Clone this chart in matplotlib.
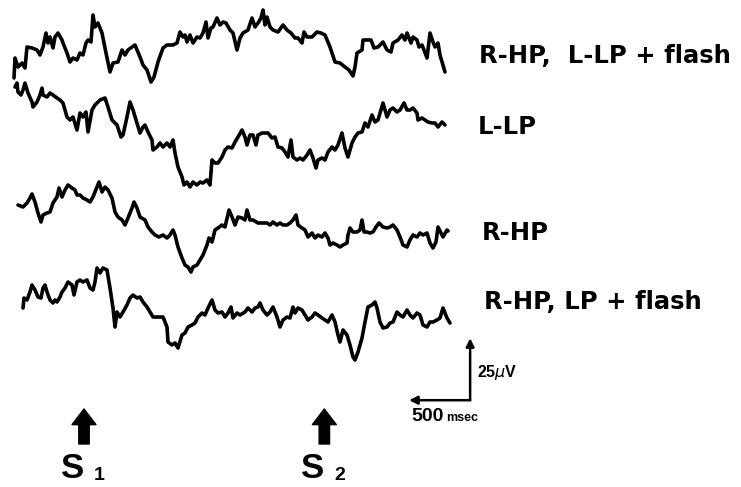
import numpy as np
import matplotlib
matplotlib.use("Agg")
import matplotlib.pyplot as plt

# digitized samples of the four traces, in scan pixels (x, y)
trace1_px = [(14, 78), (15, 58), (18, 67), (22, 63), (25, 68), (27, 47), (32, 48), (37, 50), (40, 55), (43, 47),
             (46, 33), (48, 43), (50, 37), (53, 48), (55, 37), (58, 33), (62, 40), (63, 43), (67, 53), (70, 62),
             (73, 58), (77, 60), (80, 53), (83, 55), (86, 43), (88, 40), (91, 42), (93, 15), (95, 27), (98, 23),
             (102, 33), (106, 53), (110, 72), (113, 63), (118, 62), (122, 50), (125, 55), (128, 50), (132, 47),
             (135, 45), (140, 57), (143, 65), (147, 70), (151, 82), (154, 77), (158, 62), (163, 48), (167, 45),
             (173, 45), (177, 43), (180, 32), (183, 37), (185, 35), (187, 42), (190, 35), (193, 43), (197, 37),
             (200, 38), (203, 33), (206, 22), (208, 38), (211, 28), (213, 27), (217, 18), (220, 25), (223, 22),
             (226, 23), (230, 30), (233, 33), (237, 50), (240, 38), (243, 33), (248, 30), (252, 18), (255, 27),
             (258, 23), (261, 18), (263, 10), (265, 25), (267, 17), (270, 27), (273, 30), (278, 32), (283, 25),
             (287, 30), (291, 33), (295, 38), (298, 38), (302, 43), (304, 32), (307, 37), (312, 37), (317, 32),
             (321, 33), (325, 35), (330, 47), (335, 62), (340, 63), (345, 67), (349, 70), (353, 76), (355, 67),
             (357, 53), (362, 50), (363, 40), (367, 40), (371, 40), (374, 48), (378, 47), (383, 42), (387, 50),
             (391, 52), (393, 43), (398, 40), (402, 35), (405, 40), (407, 33), (411, 43), (413, 37), (417, 40),
             (419, 47), (422, 45), (424, 50), (427, 58), (430, 33), (433, 42), (435, 47), (438, 43), (440, 55),
             (443, 65), (445, 72)]

trace2_px = [(15, 87), (17, 83), (18, 92), (21, 95), (23, 90), (25, 83), (28, 93), (32, 102), (33, 107), (37, 102),
             (40, 95), (42, 88), (43, 95), (47, 97), (50, 93), (53, 95), (57, 98), (60, 100), (63, 103), (67, 117),
             (70, 120), (73, 117), (77, 130), (80, 113), (83, 117), (86, 112), (88, 132), (92, 110), (95, 105),
             (100, 100), (105, 98), (108, 107), (112, 120), (117, 125), (121, 137), (123, 135), (127, 117),
             (130, 102), (133, 110), (137, 123), (140, 133), (143, 127), (145, 125), (148, 132), (152, 140),
             (153, 150), (157, 147), (160, 143), (163, 147), (167, 143), (170, 147), (173, 140), (175, 153),
             (178, 167), (182, 177), (184, 185), (187, 182), (190, 187), (193, 182), (197, 185), (200, 182),
             (203, 183), (207, 180), (210, 185), (212, 160), (215, 163), (218, 163), (222, 157), (225, 150),
             (228, 147), (232, 148), (235, 142), (238, 137), (242, 130), (245, 137), (247, 145), (250, 135),
             (253, 135), (256, 145), (258, 135), (262, 133), (265, 133), (268, 133), (272, 138), (275, 137),
             (278, 147), (282, 148), (285, 152), (288, 157), (291, 140), (293, 157), (297, 160), (300, 158),
             (303, 160), (307, 155), (310, 150), (313, 158), (316, 168), (318, 160), (322, 158), (325, 160),
             (328, 152), (332, 147), (335, 150), (338, 145), (342, 133), (345, 148), (348, 157), (352, 143),
             (355, 137), (358, 133), (362, 132), (365, 123), (368, 127), (372, 115), (375, 122), (378, 120),
             (383, 103), (387, 117), (390, 110), (393, 108), (397, 112), (400, 110), (404, 103), (407, 110),
             (410, 110), (413, 108), (417, 113), (418, 120), (422, 118), (425, 120), (428, 122), (432, 123),
             (435, 123), (438, 127), (442, 122), (445, 125)]

trace3_px = [(18, 205), (23, 207), (27, 203), (30, 198), (32, 194), (35, 202), (38, 213), (41, 222), (43, 215),
             (47, 213), (50, 212), (53, 203), (57, 197), (59, 188), (62, 197), (65, 190), (68, 185), (72, 188),
             (75, 190), (77, 195), (80, 195), (83, 198), (87, 200), (90, 202), (93, 197), (97, 187), (99, 182),
             (102, 192), (105, 187), (108, 190), (112, 198), (115, 212), (118, 217), (122, 220), (125, 225),
             (128, 218), (132, 208), (134, 202), (137, 208), (140, 217), (145, 220), (148, 227), (152, 232),
             (155, 235), (159, 237), (163, 235), (167, 238), (170, 235), (173, 230), (175, 235), (178, 247),
             (182, 258), (185, 265), (188, 267), (191, 272), (193, 267), (197, 265), (200, 260), (203, 255),
             (207, 245), (209, 238), (212, 242), (215, 230), (218, 228), (222, 225), (225, 227), (229, 210),
             (232, 217), (235, 225), (238, 217), (242, 218), (245, 220), (247, 210), (250, 220), (253, 220),
             (258, 223), (263, 223), (267, 223), (270, 225), (273, 222), (277, 225), (280, 223), (283, 225),
             (287, 225), (290, 223), (293, 220), (296, 215), (298, 225), (302, 228), (305, 230), (308, 237),
             (312, 233), (315, 238), (318, 235), (322, 237), (325, 233), (328, 238), (330, 245), (333, 243),
             (337, 245), (340, 247), (343, 245), (347, 243), (348, 235), (350, 228), (353, 232), (357, 232),
             (360, 230), (362, 220), (364, 232), (367, 232), (370, 233), (373, 232), (376, 227), (379, 223),
             (383, 227), (387, 228), (390, 227), (393, 225), (397, 230), (400, 237), (403, 245), (407, 247),
             (410, 240), (413, 235), (417, 237), (420, 233), (423, 235), (427, 233), (430, 243), (433, 248),
             (436, 242), (438, 227), (441, 233), (443, 237), (447, 230), (448, 231)]

trace4_px = [(23, 308), (24, 298), (27, 300), (30, 292), (32, 285), (35, 290), (38, 297), (41, 298), (43, 288),
             (45, 285), (47, 292), (50, 300), (53, 303), (55, 300), (57, 302), (60, 297), (62, 292), (65, 288),
             (68, 282), (72, 285), (74, 295), (77, 282), (80, 280), (83, 282), (87, 280), (90, 288), (93, 290),
             (95, 282), (97, 268), (100, 273), (103, 268), (107, 270), (110, 288), (113, 308), (115, 327),
             (117, 312), (120, 317), (123, 312), (127, 305), (130, 298), (133, 295), (137, 298), (140, 297),
             (143, 302), (147, 307), (150, 312), (153, 317), (158, 317), (163, 317), (167, 327), (168, 342),
             (172, 345), (175, 343), (178, 348), (182, 335), (185, 333), (188, 327), (192, 325), (195, 323),
             (198, 317), (202, 313), (205, 315), (208, 308), (212, 300), (215, 310), (218, 313), (222, 312),
             (225, 317), (228, 313), (231, 307), (233, 318), (237, 313), (240, 315), (245, 312), (248, 308),
             (252, 312), (255, 308), (258, 307), (260, 303), (263, 310), (267, 315), (270, 312), (273, 307),
             (277, 317), (280, 327), (283, 320), (287, 317), (290, 318), (293, 307), (295, 313), (298, 308),
             (302, 310), (305, 315), (308, 320), (312, 317), (315, 313), (318, 315), (322, 318), (325, 320),
             (328, 322), (332, 315), (335, 322), (338, 335), (340, 342), (343, 330), (347, 335), (350, 345),
             (353, 357), (355, 360), (358, 352), (362, 338), (365, 322), (368, 307), (372, 305), (375, 302),
             (377, 308), (380, 322), (383, 328), (387, 327), (390, 323), (393, 322), (397, 312), (400, 315),
             (403, 317), (407, 310), (410, 315), (413, 318), (417, 313), (420, 315), (423, 325), (427, 327),
             (430, 322), (433, 322), (437, 320), (440, 318), (443, 308), (445, 313), (447, 318), (450, 323)]

labels = ["R-HP,  L-LP + flash", "L-LP", "R-HP", "R-HP, LP + flash"]
stim_names = ["S", "S"]
stim_subs = ["1", "2"]
stim_ms = [0, 1970]
scale_ms = 500
scale_uv = 25

# calibration from the scale bar: 500 ms ~ 61 px, 25 uV ~ 62 px
MS_PER_PX = 500 / 61.0
UV_PER_PX = 25 / 62.0
X0_PX = 84      # S1 position
H_PX = 487


def to_ms(x):
    return (np.asarray(x, float) - X0_PX) * MS_PER_PX


def to_uv(y):
    return (H_PX - np.asarray(y, float)) * UV_PER_PX


fig = plt.figure(figsize=(7.41, 4.87), dpi=100)
ax = fig.add_axes([0, 0, 1, 1])
ax.set_xlim(to_ms(0), to_ms(741))
ax.set_ylim(0, to_uv(0))
ax.axis('off')

for tr in [trace1_px, trace2_px, trace3_px, trace4_px]:
    arr = np.array(tr)
    ax.plot(to_ms(arr[:, 0]), to_uv(arr[:, 1]), color='black', lw=2.6,
            solid_joinstyle='round', solid_capstyle='round')

lab_font = 'DejaVu Sans'
label_pos = [(479, 56), (478, 127), (482, 233), (484, 302)]
for lab, (lx, ly) in zip(labels, label_pos):
    ax.text(to_ms(lx), to_uv(ly), lab, fontsize=17.5, fontweight='bold', family=lab_font,
            ha='left', va='center')

# scale bar
font = 'Liberation Sans'
cx, cy = 3165, 35
ax.annotate('', xy=(cx - scale_ms, cy), xytext=(cx, cy),
            arrowprops=dict(arrowstyle='-|>', lw=1.8, color='black', mutation_scale=12, shrinkA=0, shrinkB=0))
ax.annotate('', xy=(cx, cy + scale_uv), xytext=(cx, cy),
            arrowprops=dict(arrowstyle='-|>', lw=1.8, color='black', mutation_scale=12, shrinkA=0, shrinkB=0))
ax.text(cx + 55, cy + 11, '25$\\mu$V', fontsize=11.5, fontweight='bold', family=font, ha='left', va='center')
ax.text(cx - scale_ms + 20, cy - 6.5, '500', fontsize=14, fontweight='bold', family=font, ha='left', va='center')
ax.text(cx - scale_ms + 305, cy - 7, 'msec', fontsize=9, fontweight='bold', family=font, ha='left', va='center')

# stimulus markers
for name, sub, t in zip(stim_names, stim_subs, stim_ms):
    ax.annotate('', xy=(t, to_uv(409)), xytext=(t, to_uv(444)),
                arrowprops=dict(arrowstyle='simple,head_width=1.15,head_length=0.75,tail_width=0.5',
                                color='black', mutation_scale=15, shrinkA=0, shrinkB=0))
    ax.text(t - 95, to_uv(469), name, fontsize=25, fontweight='bold', family=font, ha='center', va='center')
    ax.text(t + 128, to_uv(475), sub, fontsize=14, fontweight='bold', family=font, ha='center', va='center')

fig.savefig('out.png', dpi=100)
